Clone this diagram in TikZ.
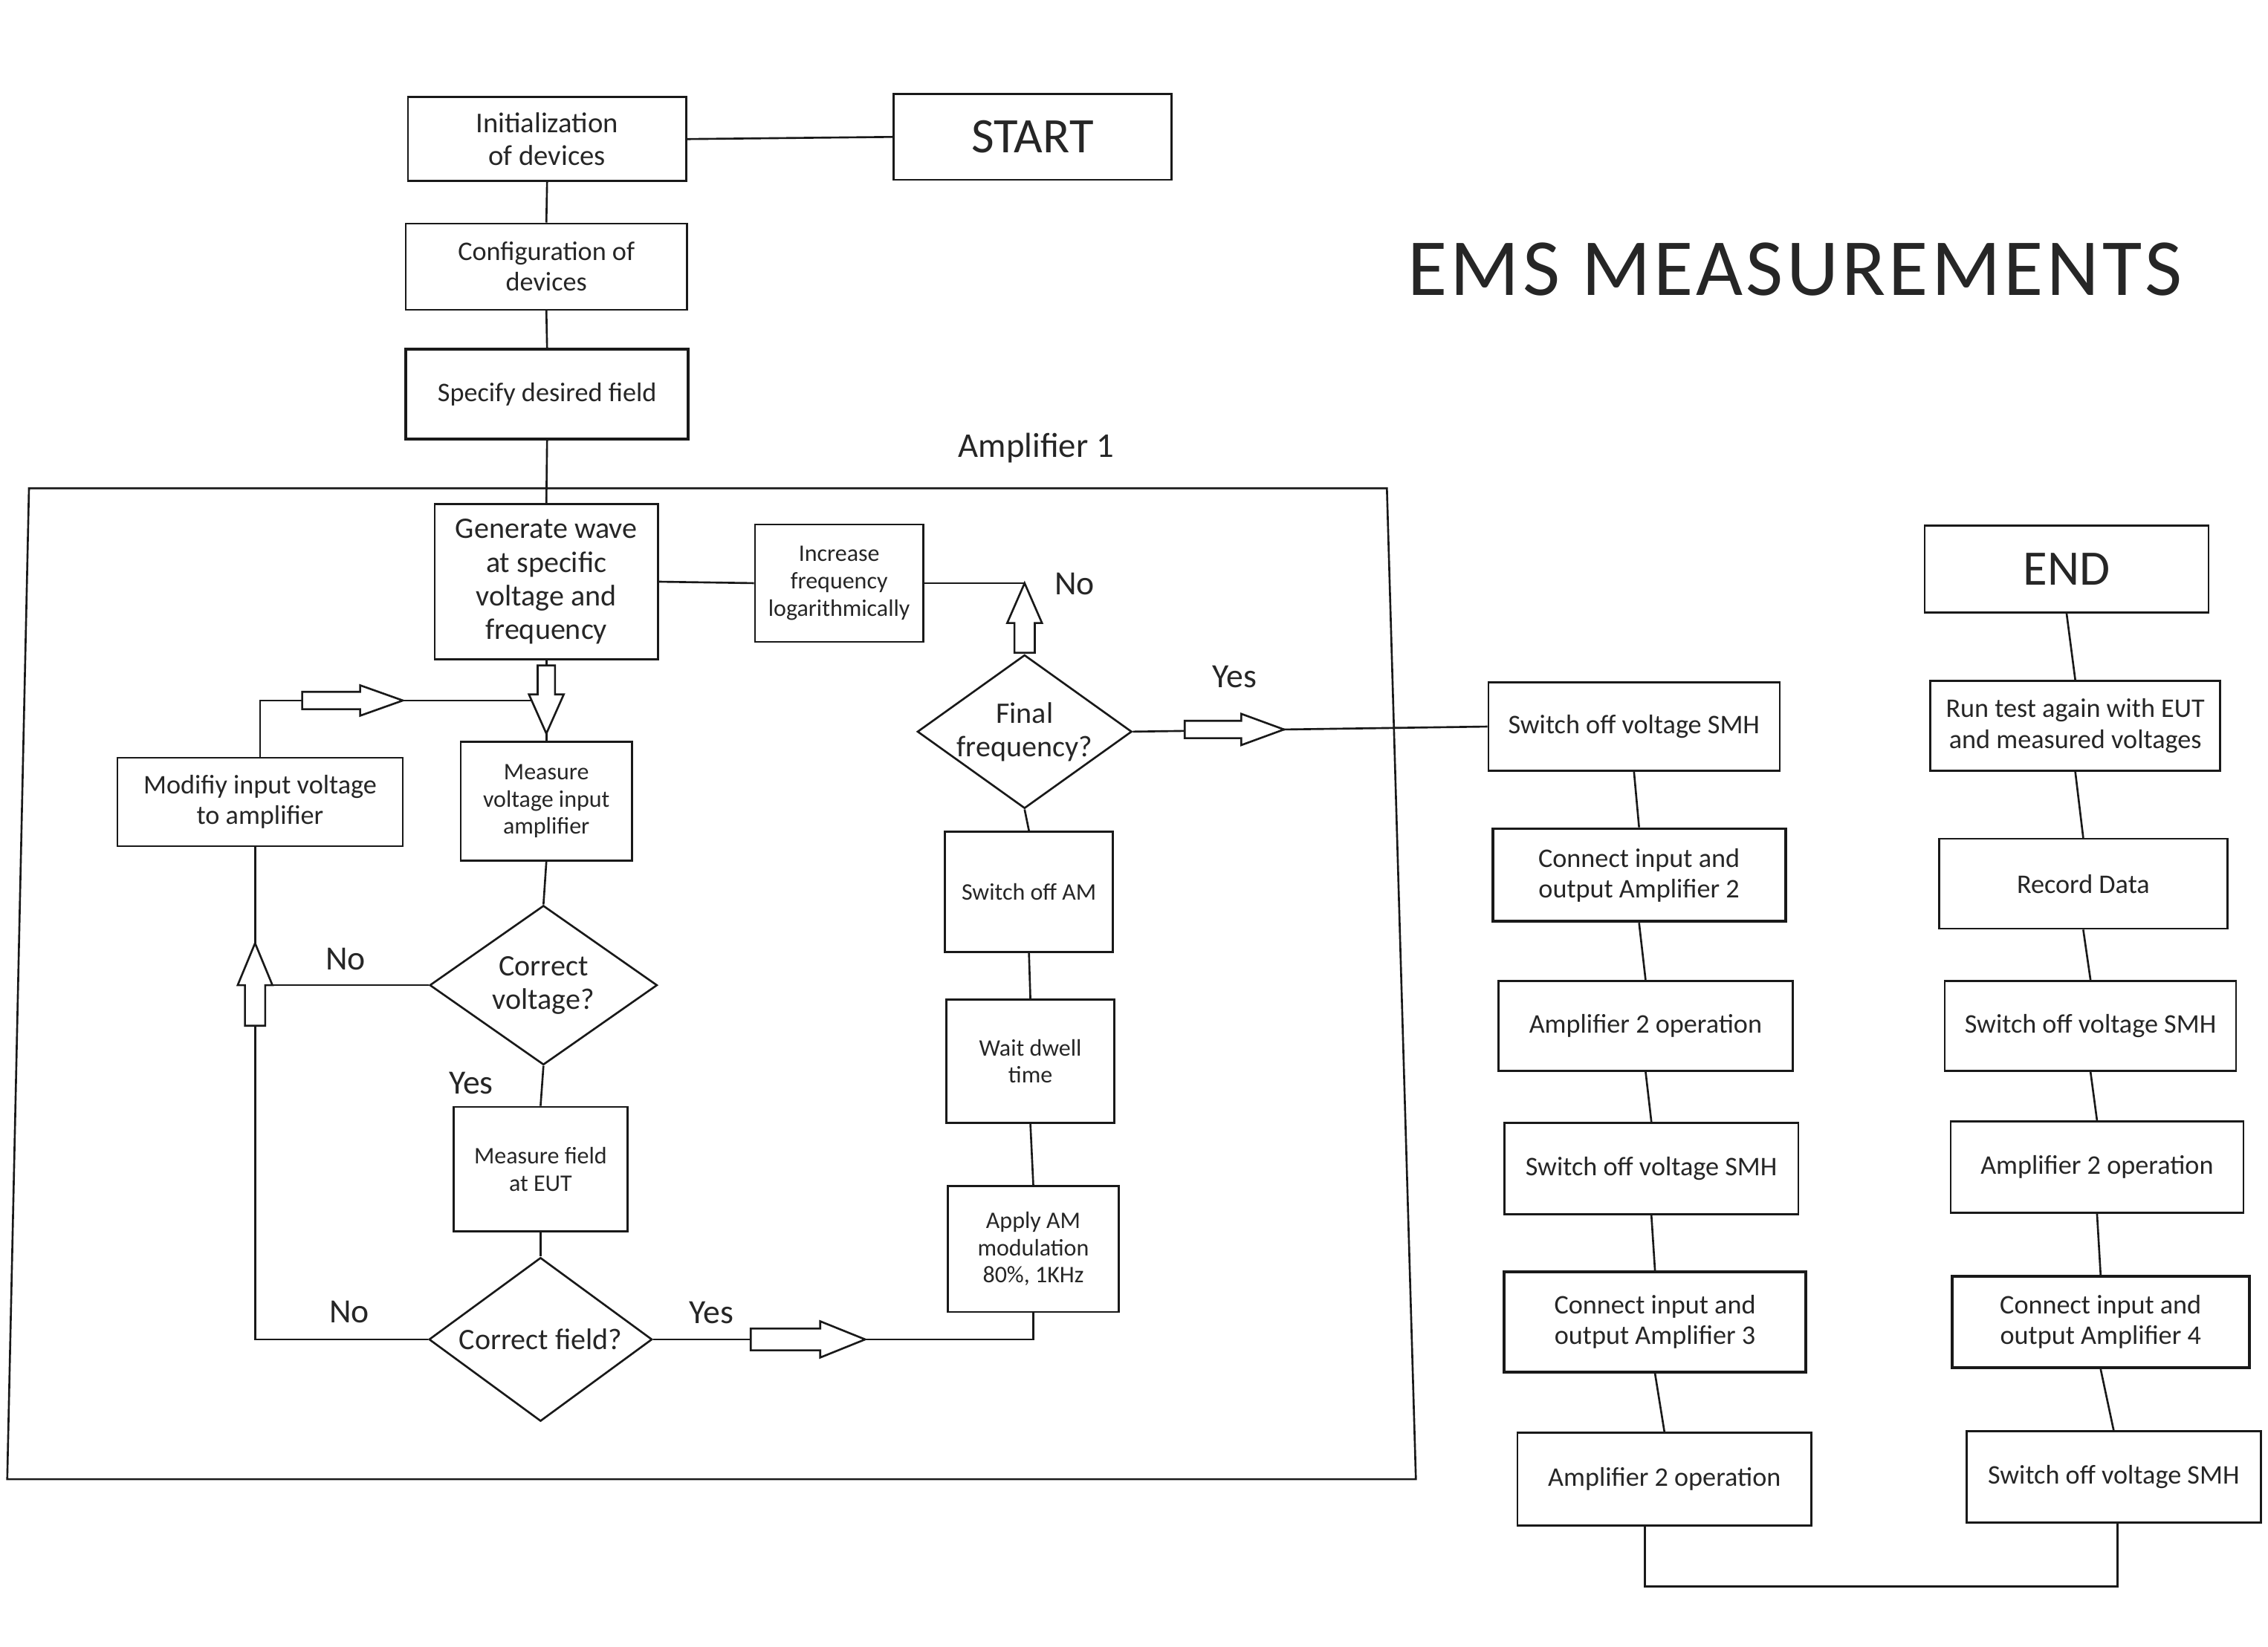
\documentclass[tikz,border=0pt]{standalone}
\usepackage{fontspec}
\setmainfont{Carlito}
\newfontfamily\titlefont[LetterSpace=4]{Carlito}
\usetikzlibrary{shapes.geometric,calc}
\newlength{\pxu}\setlength{\pxu}{0.0195cm}
\newcommand{\fsz}[2]{\fontsize{#1pt}{#2pt}\selectfont}
\newcommand{\blkarrow}[6]{%
 \begin{scope}[shift={#1},rotate=#2]
 \draw[blk] (0,0) -- (-#4,#6) -- (-#4,#5) -- ({-#4-#3},#5) -- ({-#4-#3},-#5) -- (-#4,-#5) -- (-#4,-#6) -- cycle;
 \end{scope}}
\tikzset{
 conn/.style={line width=0.75pt, draw=black!90},
 box/.style={draw=black!90, line width=0.75pt, rectangle, inner sep=0pt, align=center, text=black!85},
 tbox/.style={box, line width=1.1pt},
 dia/.style={draw=black!90, line width=0.75pt, diamond, inner sep=0pt, text=black!85},
 blk/.style={draw=black!90, line width=0.75pt, fill=white, line join=miter},
 sz/.style 2 args={minimum width=#1*\pxu, minimum height=#2*\pxu},
 fA/.style={font=\fsz{11}{12.4}},
 fG/.style={font=\fsz{11.4}{12.9}},
 fB/.style={font=\fsz{10.3}{11.7}},
 fC/.style={font=\fsz{9.1}{10.4}},
 fBig/.style={font=\fsz{19}{21}},
 yn/.style={font=\fsz{13}{15}, text=black!85, inner sep=0pt},
 dlab/.style={font=\fsz{11.4}{12.8}, align=center, text=black!85, inner sep=0pt},
}
\begin{document}
\begin{tikzpicture}[x=0.0195cm, y=-0.0195cm]
\useasboundingbox (0,0) rectangle (1565,1136.8);

% title and frame label
\node[font=\titlefont\fsz{31}{34}, text=black!85, inner sep=0pt] (title) at (1238.5,186) {EMS MEASUREMENTS};
\node[font=\fsz{13.3}{15}, text=black!85, inner sep=0pt] (amp1) at (715,309) {Amplifier 1};

% frame
\draw[conn] (20,337) -- (957,337) -- (977,1021) -- (5,1021) -- cycle;

% top chain
\node[box, fA, sz={192}{58}] (init) at (377.5,96) {Initialization\\of devices};
\node[box, fBig, sz={192}{59}] (start) at (712.5,94.5) {START};
\node[box, fB, sz={194}{59.5}] (config) at (377,184) {Configuration of\\devices};
\node[tbox, fB, sz={195}{62}] (spec) at (377.5,272) {Specify desired field};

% amplifier 1 loop
\node[box, fG, sz={154}{107}] (gen) at (377,401.5) {Generate wave\\at specific\\voltage and\\frequency};
\node[box, fC, sz={116}{81}] (incr) at (579,402.5) {Increase\\frequency\\logarithmically};
\node[dia, sz={148}{106}, label={[dlab]center:Final\\frequency?}] (final) at (707,505) {};
\node[box, fC, sz={118}{82}] (mv) at (377,553) {Measure\\voltage input\\amplifier};
\node[box, fB, sz={197}{61}] (mod) at (179.5,553.5) {Modifiy input voltage\\to amplifier};
\node[dia, sz={157}{110}, label={[dlab]center:Correct\\voltage?}] (cv) at (375,680) {};
\node[box, fC, sz={120}{86}] (mf) at (373,807) {Measure field\\at EUT};
\node[dia, sz={154}{113}, label={[dlab]center:Correct field?}] (cf) at (373,924.5) {};
\node[box, fC, sz={116}{83}] (soam) at (710,615.5) {Switch off AM};
\node[box, fC, sz={116}{85}] (wait) at (711,732.5) {Wait dwell\\time};
\node[box, fC, sz={118}{87}] (apply) at (713,862) {Apply AM\\modulation\\80\%, 1KHz};

% right columns
\node[box, fB, sz={201}{61}] (c1a) at (1127.5,501.5) {Switch off voltage SMH};
\node[tbox, fB, sz={202}{64}] (c1b) at (1131,604) {Connect input and\\output Amplifier 2};
\node[box, fB, sz={203}{62}] (c1c) at (1135.5,708) {Amplifier 2 operation};
\node[box, fB, sz={203}{63}] (c1d) at (1139.5,806.5) {Switch off voltage SMH};
\node[tbox, fB, sz={208}{69}] (c1e) at (1142,912.5) {Connect input and\\output Amplifier 3};
\node[box, fB, sz={203}{64}] (c1f) at (1148.5,1021) {Amplifier 2 operation};

\node[box, fBig, sz={196}{60}] (c2a) at (1426,392.7) {END};
\node[box, fB, sz={200}{62}] (c2b) at (1432,501) {Run test again with EUT\\and measured voltages};
\node[box, fB, sz={199}{62}] (c2c) at (1437.5,610) {Record Data};
\node[box, fB, sz={201}{62}] (c2d) at (1442.5,708) {Switch off voltage SMH};
\node[box, fB, sz={202}{63}] (c2e) at (1447,805.5) {Amplifier 2 operation};
\node[tbox, fB, sz={205}{63}] (c2f) at (1449.5,912.5) {Connect input and\\output Amplifier 4};
\node[box, fB, sz={203}{63}] (c2g) at (1458.5,1019.5) {Switch off voltage SMH};

% Yes / No labels
\node[yn] (nofinal) at (741.5,403) {No};
\node[yn] (yesfinal) at (852,467) {Yes};
\node[yn] (nocv) at (238.5,662) {No};
\node[yn] (yescv) at (325,747.5) {Yes};
\node[yn] (nocf) at (241,905.5) {No};
\node[yn] (yescf) at (491,906) {Yes};

% connectors
\draw[conn] (init.east) -- (start.west);
\draw[conn] (init.south) -- (config.north);
\draw[conn] (config.south) -- (spec.north);
\draw[conn] (spec.south) -- (gen.north);
\draw[conn] (gen.east) -- (incr.west);
\draw[conn] (incr.east) -- (incr.east -| final.north) -- (final.north);
\draw[conn] (final.east) -- (c1a.west);
\draw[conn] (final.south) -- (soam.north);
\draw[conn] (soam.south) -- (wait.north);
\draw[conn] (wait.south) -- (apply.north);
\draw[conn] (cf.east) -| (apply.south);
\draw[conn] (gen.south) -- (mv.north);
\draw[conn] (mv.south) -- (cv.north);
\draw[conn] (cv.south) -- (mf.north);
\draw[conn] (mf.south) -- (cf.north);
\coordinate (lx) at (176,0);
\draw[conn] (cf.west) -- (cf.west -| lx) -- (mod.south -| lx);
\draw[conn] (cv.west) -- (cv.west -| lx);
\coordinate (ly) at (0,483.5);
\draw[conn] (mod.north) -- (mod.north |- ly) -- (gen.south |- ly);

\draw[conn] (c1a.south) -- (c1b.north);
\draw[conn] (c1b.south) -- (c1c.north);
\draw[conn] (c1c.south) -- (c1d.north);
\draw[conn] (c1d.south) -- (c1e.north);
\draw[conn] (c1e.south) -- (c1f.north);
\draw[conn] (c2a.south) -- (c2b.north);
\draw[conn] (c2b.south) -- (c2c.north);
\draw[conn] (c2c.south) -- (c2d.north);
\draw[conn] (c2d.south) -- (c2e.north);
\draw[conn] (c2e.south) -- (c2f.north);
\draw[conn] (c2f.south) -- (c2g.north);
\coordinate (bl) at (1135,1095);
\coordinate (br) at (1461,1095);
\draw[conn] (c1f.south -| bl) -- (bl) -- (br) -- (c2g.south -| br);

% block arrows
\blkarrow{($(mv.north)+(0,-5)$)}{-90}{20}{27}{6}{12}
\blkarrow{($(gen.south |- ly)+(-99,0)$)}{0}{40}{29.5}{6}{10.5}
\blkarrow{(176,651)}{90}{28}{29}{7}{12}
\blkarrow{(incr.east -| final.north)}{90}{20.5}{27.5}{7}{12}
\blkarrow{(886,503.5)}{0}{39}{29.5}{6}{10.8}
\blkarrow{(597,924.5)}{0}{48}{31}{7.5}{12.5}
\end{tikzpicture}
\end{document}
